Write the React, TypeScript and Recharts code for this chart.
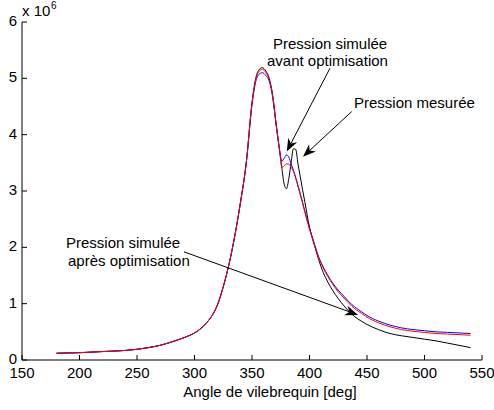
import React from "react";
import { LineChart, Line, XAxis, YAxis, ReferenceLine } from "recharts";

// Angle de vilebrequin [deg]
const angles = [
  180, 200, 220, 240, 250, 260, 270, 280, 290, 300, 305, 310, 315, 320, 325,
  330, 335, 340, 345, 350, 353, 356, 359, 362, 365, 368, 371, 374, 376, 378,
  380, 382, 384, 386, 388, 390, 392, 394, 396, 400, 404, 408, 412, 416, 420,
  425, 430, 437, 445, 450, 460, 470, 480, 490, 500, 510, 520, 530, 540,
];

// pression mesurée (x 10^6), noir
const mesuree = [
  0.12, 0.13, 0.15, 0.17, 0.19, 0.22, 0.26, 0.32, 0.39, 0.48, 0.55, 0.65, 0.78,
  0.98, 1.3, 1.7, 2.2, 2.8, 3.5, 4.57, 4.98, 5.15, 5.19, 5.13, 5.0, 4.7, 4.19,
  3.72, 3.4, 3.12, 3.04, 3.22, 3.5, 3.75, 3.74, 3.48, 3.25, 3.02, 2.8, 2.36,
  2.06, 1.78, 1.55, 1.38, 1.24, 1.09, 0.96, 0.81, 0.69, 0.63, 0.54, 0.47, 0.43,
  0.4, 0.37, 0.34, 0.3, 0.26, 0.22,
];

// pression simulée avant optimisation, bleu
const avant = [
  0.12, 0.13, 0.15, 0.17, 0.19, 0.22, 0.26, 0.32, 0.39, 0.48, 0.55, 0.65, 0.78,
  0.98, 1.3, 1.7, 2.2, 2.8, 3.5, 4.53, 4.92, 5.07, 5.1, 5.05, 4.95, 4.66, 4.17,
  3.72, 3.53, 3.58, 3.64, 3.6, 3.48, 3.37, 3.24, 3.1, 2.95, 2.8, 2.64, 2.34,
  2.08, 1.83, 1.65, 1.5, 1.37, 1.24, 1.13, 0.98, 0.86, 0.79, 0.69, 0.62, 0.57,
  0.54, 0.52, 0.5, 0.49, 0.48, 0.47,
];

// pression simulée après optimisation, rouge
const apres = [
  0.12, 0.13, 0.15, 0.17, 0.19, 0.22, 0.26, 0.32, 0.39, 0.48, 0.55, 0.65, 0.78,
  0.98, 1.3, 1.7, 2.2, 2.8, 3.5, 4.55, 4.95, 5.12, 5.16, 5.1, 4.98, 4.68, 4.18,
  3.72, 3.42, 3.45, 3.48, 3.48, 3.42, 3.35, 3.23, 3.08, 2.93, 2.78, 2.62, 2.32,
  2.06, 1.81, 1.63, 1.48, 1.35, 1.21, 1.1, 0.95, 0.83, 0.76, 0.66, 0.59, 0.54,
  0.51, 0.49, 0.47, 0.46, 0.45, 0.44,
];

const xTicks = [150, 200, 250, 300, 350, 400, 450, 500, 550];
const yTicks = [0, 1, 2, 3, 4, 5, 6];

const FONT = "'Liberation Sans', Arial, Helvetica, sans-serif";
const TICK = 5;

const data = angles.map((a, i) => ({
  angle: a,
  mesuree: mesuree[i],
  avant: avant[i],
  apres: apres[i],
}));

function BottomTick({ x, y, payload }: any) {
  return (
    <g>
      <line x1={x} y1={y} x2={x} y2={y - TICK} stroke="#000" />
      <text x={x} y={y + 18} textAnchor="middle" fontSize={15} fontFamily={FONT} fill="#000">
        {payload.value}
      </text>
    </g>
  );
}

function LeftTick({ x, y, payload }: any) {
  return (
    <g>
      <line x1={x} y1={y} x2={x + TICK} y2={y} stroke="#000" />
      <text x={x - 5} y={y + 4} textAnchor="end" fontSize={15} fontFamily={FONT} fill="#000">
        {payload.value}
      </text>
    </g>
  );
}

function TopTick({ x, y }: any) {
  return <line x1={x} y1={y} x2={x} y2={y + TICK} stroke="#000" />;
}

function RightTick({ x, y }: any) {
  return <line x1={x} y1={y} x2={x - TICK} y2={y} stroke="#000" />;
}

// flèche style MATLAB : trait + pointe pleine
function Arrow({ x1, y1, x2, y2 }: any) {
  const a = Math.atan2(y2 - y1, x2 - x1);
  const c = Math.cos(a);
  const s = Math.sin(a);
  const len = 13;
  const half = 5;
  const bx = x2 - len * c;
  const by = y2 - len * s;
  const nx = x2 - len * 0.7 * c;
  const ny = y2 - len * 0.7 * s;
  const pts = [
    [x2, y2],
    [bx - s * half, by + c * half],
    [nx, ny],
    [bx + s * half, by - c * half],
  ]
    .map((p) => p.join(","))
    .join(" ");
  return (
    <g>
      <line x1={x1} y1={y1} x2={nx} y2={ny} stroke="#000" strokeWidth={1} />
      <polygon points={pts} fill="#000" />
    </g>
  );
}

const txt = { fontSize: 15, fontFamily: FONT, fill: "#000" } as const;

export default function App() {
  return (
    <div style={{ position: "absolute", left: 0, top: 0, width: 494, height: 410, background: "#fff" }}>
      <LineChart
        width={494}
        height={410}
        data={data}
        margin={{ top: 22, right: 12, bottom: 0, left: 0 }}
      >
        <XAxis
          xAxisId="b"
          dataKey="angle"
          type="number"
          domain={[150, 550]}
          ticks={xTicks}
          height={50}
          tickSize={0}
          tickMargin={0}
          tickLine={false}
          axisLine={{ stroke: "#000" }}
          tick={<BottomTick />}
          interval={0}
        />
        <XAxis
          xAxisId="t"
          orientation="top"
          dataKey="angle"
          type="number"
          domain={[150, 550]}
          ticks={xTicks}
          height={0}
          tickSize={0}
          tickMargin={0}
          tickLine={false}
          axisLine={{ stroke: "#000" }}
          tick={<TopTick />}
          interval={0}
        />
        <YAxis
          yAxisId="l"
          type="number"
          domain={[0, 6]}
          ticks={yTicks}
          width={22}
          tickSize={0}
          tickMargin={0}
          tickLine={false}
          axisLine={{ stroke: "#000" }}
          tick={<LeftTick />}
          interval={0}
        />
        <YAxis
          yAxisId="r"
          orientation="right"
          type="number"
          domain={[0, 6]}
          ticks={yTicks}
          width={0}
          tickSize={0}
          tickMargin={0}
          tickLine={false}
          axisLine={{ stroke: "#000" }}
          tick={<RightTick />}
          interval={0}
        />
        <Line xAxisId="b" yAxisId="l" type="monotone" dataKey="mesuree" stroke="#000000" strokeWidth={1} dot={false} isAnimationActive={false} />
        <Line xAxisId="b" yAxisId="l" type="monotone" dataKey="avant" stroke="#0000ff" strokeWidth={1} dot={false} isAnimationActive={false} />
        <Line xAxisId="b" yAxisId="l" type="monotone" dataKey="apres" stroke="#ff0000" strokeWidth={1} dot={false} isAnimationActive={false} />
        <ReferenceLine
          xAxisId="b"
          yAxisId="l"
          segment={[{ x: 417.8, y: 5.18 }, { x: 380.2, y: 3.7 }]}
          shape={Arrow}
          isFront
        />
        <ReferenceLine
          xAxisId="b"
          yAxisId="l"
          segment={[{ x: 436.7, y: 4.41 }, { x: 394.3, y: 3.61 }]}
          shape={Arrow}
          isFront
        />
        <ReferenceLine
          xAxisId="b"
          yAxisId="l"
          segment={[{ x: 290.9, y: 1.92 }, { x: 442.2, y: 0.8 }]}
          shape={Arrow}
          isFront
        />
      </LineChart>
      <svg
        width={494}
        height={410}
        style={{ position: "absolute", left: 0, top: 0, pointerEvents: "none" }}
      >
        <text x={22} y={16} {...txt}>x 10</text>
        <text x={51} y={9} {...txt} fontSize={10}>6</text>
        <text x={273} y={49} {...txt}>Pression simulée</text>
        <text x={267} y={66} {...txt}>avant optimisation</text>
        <text x={354} y={108} {...txt}>Pression mesurée</text>
        <text x={66} y={248} {...txt}>Pression simulée</text>
        <text x={68} y={266} {...txt}>après optimisation</text>
        <text x={270} y={397} {...txt} textAnchor="middle">Angle de vilebrequin [deg]</text>
      </svg>
    </div>
  );
}
